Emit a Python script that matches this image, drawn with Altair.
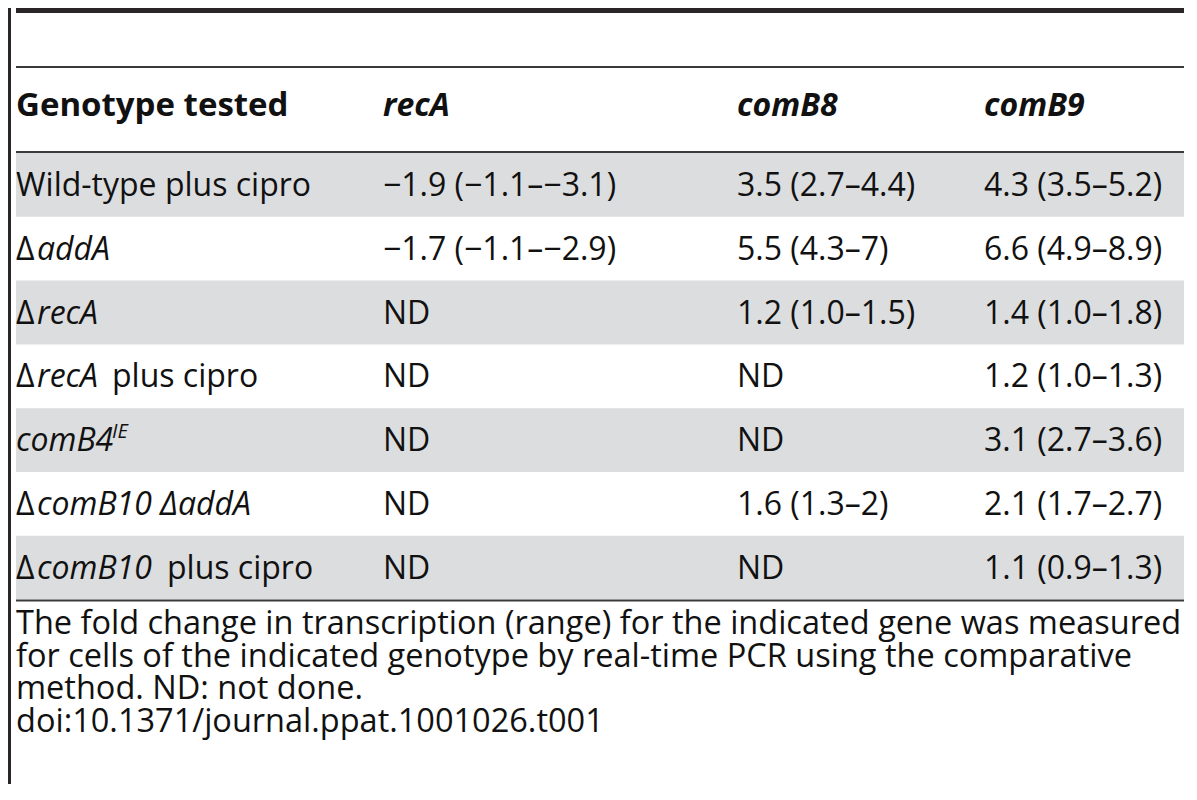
import altair as alt
import pandas as pd

# ---------------- data ----------------
HEADERS = ["Genotype tested", "recA", "comB8", "comB9"]

# genotype cells: list of (text, style) segments; style n=normal, i=italic, s=superscript italic
GENOTYPES = [
    [("Wild-type plus cipro", "n")],
    [("\u0394", "n"), ("addA", "i")],
    [("\u0394", "n"), ("recA", "i")],
    [("\u0394", "n"), ("recA", "i"), ("plus cipro", "n")],
    [("comB4", "i"), ("IE", "s")],
    [("\u0394", "n"), ("comB10", "i"), ("\u0394addA", "i")],
    [("\u0394", "n"), ("comB10", "i"), ("plus cipro", "n")],
]
RECA = ["\u22121.9 (\u22121.1\u2013\u22123.1)", "\u22121.7 (\u22121.1\u2013\u22122.9)",
        "ND", "ND", "ND", "ND", "ND"]
COMB8 = ["3.5 (2.7\u20134.4)", "5.5 (4.3\u20137)", "1.2 (1.0\u20131.5)", "ND", "ND",
         "1.6 (1.3\u20132)", "ND"]
COMB9 = ["4.3 (3.5\u20135.2)", "6.6 (4.9\u20138.9)", "1.4 (1.0\u20131.8)", "1.2 (1.0\u20131.3)",
         "3.1 (2.7\u20133.6)", "2.1 (1.7\u20132.7)", "1.1 (0.9\u20131.3)"]
CAPTION = [
    "The fold change in transcription (range) for the indicated gene was measured",
    "for cells of the indicated genotype by real-time PCR using the comparative",
    "method. ND: not done.",
    "doi:10.1371/journal.ppat.1001026.t001",
]

# ---------------- layout (page pixels) ----------------
W, H = 1176, 776
X0, X1 = 8, 8 + W
Y0, Y1 = 8, 8 + H
LEFT = 16
RIGHT = X1
COL_X = [16, 383, 737, 984]
SEG_X = [[16], [16, 37], [16, 37], [16, 37, 112], [16, 112], [16, 37, 160], [16, 37, 167]]
HEADER_BASE = 116
ROW_TOP = 153
ROW_H = 63.8
BASE_OFF = 43
SUP_RISE = 13
CAP_BASE = 634
CAP_STEP = 32.5
FONT = "Open Sans"
FS = 32

xs = alt.Scale(domain=[X0, X1])
ys = alt.Scale(domain=[Y0, Y1], reverse=True)

# text segments
recs = []
for j, h in enumerate(HEADERS):
    recs.append(dict(x=COL_X[j], y=HEADER_BASE, t=h, st="b" if j == 0 else "bi"))
for r, parts in enumerate(GENOTYPES):
    base = ROW_TOP + r * ROW_H + BASE_OFF
    for (txt, st), sx in zip(parts, SEG_X[r]):
        recs.append(dict(x=sx, y=base - SUP_RISE if st == "s" else base, t=txt, st=st))
    for j, col in enumerate([RECA, COMB8, COMB9]):
        recs.append(dict(x=COL_X[j + 1], y=base, t=col[r], st="n"))
for k, line in enumerate(CAPTION):
    recs.append(dict(x=LEFT, y=CAP_BASE + k * CAP_STEP, t=line, st="c"))
tdf = pd.DataFrame(recs)

# row bands
bands = pd.DataFrame([dict(x=LEFT, x2=RIGHT, y=ROW_TOP + r * ROW_H, y2=ROW_TOP + (r + 1) * ROW_H)
                      for r in range(len(GENOTYPES)) if r % 2 == 0])
# rules
rules = pd.DataFrame([
    dict(x=LEFT, x2=RIGHT, y=67),
    dict(x=LEFT, x2=RIGHT, y=152),
    dict(x=LEFT, x2=RIGHT, y=ROW_TOP + len(GENOTYPES) * ROW_H + 1),
])
bars = pd.DataFrame([
    dict(x=LEFT, x2=RIGHT, y=Y0, y2=13, c="top"),
    dict(x=X0, x2=X0 + 3, y=Y0, y2=Y1, c="left"),
])

X = lambda f: alt.X(f, type="quantitative", scale=xs, axis=None)
Yc = lambda f: alt.Y(f, type="quantitative", scale=ys, axis=None)

band_layer = alt.Chart(bands).mark_rect(color="#dcdddf").encode(
    x=X("x"), x2="x2", y=Yc("y"), y2="y2")
bar_layer = alt.Chart(bars).mark_rect(color="#2a2627").encode(
    x=X("x"), x2="x2", y=Yc("y"), y2="y2")
rule_layer = alt.Chart(rules).mark_rule(color="#3a3a3a", strokeWidth=2).encode(
    x=X("x"), x2="x2", y=Yc("y"))

def text_layer(style, **kw):
    return alt.Chart(tdf).transform_filter(alt.datum.st == style).mark_text(
        align="left", baseline="alphabetic", font=FONT, color="#111", **kw
    ).encode(x=X("x"), y=Yc("y"), text="t:N")

layers = [
    band_layer, bar_layer, rule_layer,
    text_layer("n", fontSize=FS),
    text_layer("c", fontSize=32.5),
    text_layer("i", fontSize=FS, fontStyle="italic"),
    text_layer("b", fontSize=33, fontWeight="bold"),
    text_layer("bi", fontSize=FS, fontWeight="bold", fontStyle="italic"),
    text_layer("s", fontSize=20, fontStyle="italic"),
]

chart = alt.layer(*layers).properties(
    width=W, height=H, padding=0
).configure_view(stroke=None)

chart.save("out.html", embed_options={"renderer": "svg", "actions": False})
